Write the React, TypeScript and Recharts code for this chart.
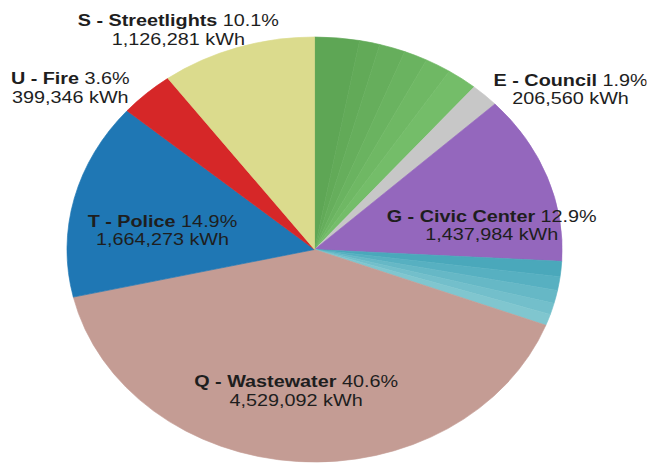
import { Cell, Pie, PieChart } from 'recharts'

// slices clockwise from 12 o'clock; the unlabeled ones are small sub-accounts
const categories = [
  'green-1', 'green-2', 'green-3', 'green-4', 'green-5', 'green-6',
  'E - Council',
  'G - Civic Center',
  'teal-1', 'teal-2', 'teal-3', 'teal-4', 'teal-5',
  'Q - Wastewater',
  'T - Police',
  'U - Fire',
  'S - Streetlights',
]
const kwh = [
  325000, 148000, 189000, 171000, 189000, 221000,
  206560,
  1437984,
  129000, 116000, 111000, 96000, 96000,
  4529092,
  1664273,
  399346,
  1126281,
]
const colors = [
  '#5ea655', '#62aa58', '#66ae5c', '#6ab360', '#6fb864', '#74bd69',
  '#c7c7c7',
  '#9467bd',
  '#4aa8bb', '#57b0c1', '#66b8c6', '#73bfcb', '#80c6cf',
  '#c49c94',
  '#1f77b4',
  '#d62728',
  '#dbdb8d',
]

// where each visible label sits: radius and angle (deg, clockwise from top)
const labelPlacement: Record<string, { r: number; a: number }> = {
  'S - Streetlights': { r: 249, a: 332 },
  'U - Fire': { r: 265, a: 307.7 },
  'E - Council': { r: 272, a: 53.9 },
  'G - Civic Center': { r: 154, a: 80.9 },
  'T - Police': { r: 132, a: 278.5 },
  'Q - Wastewater': { r: 142, a: 186.4 },
}

const STRETCH = 1.165
const total = kwh.reduce((s, v) => s + v, 0)
const data = categories.map((name, i) => ({ name, value: kwh[i] }))

function SliceLabel(props: any) {
  const { cx, cy, index } = props
  const name = categories[index]
  const place = labelPlacement[name]
  if (!place) return null
  const rad = (place.a * Math.PI) / 180
  const x = cx + place.r * Math.sin(rad)
  const y = cy - place.r * Math.cos(rad)
  const pct = ((kwh[index] / total) * 100).toFixed(1)
  return (
    <text
      x={x}
      y={y}
      textAnchor="middle"
      fill="#1e1e1e"
      fontSize={17}
      fontFamily="'Liberation Sans', Arial, sans-serif"
    >
      <tspan x={x} y={y - 9.25} dominantBaseline="central">
        <tspan fontWeight="bold">{name}</tspan> {pct}%
      </tspan>
      <tspan x={x} y={y + 9.25} dominantBaseline="central">
        {kwh[index].toLocaleString('en-US')} kWh
      </tspan>
    </text>
  )
}

export default function App() {
  return (
    <div
      style={{
        position: 'fixed',
        left: 0,
        top: 0,
        width: 647,
        height: 463,
        overflow: 'hidden',
        background: '#fff',
      }}
    >
      <div style={{ width: 555, height: 463, transform: `scaleX(${STRETCH})`, transformOrigin: 'left top' }}>
        <PieChart width={555} height={463} margin={{ top: 0, right: 0, bottom: 0, left: 0 }}>
          <Pie
            data={data}
            dataKey="value"
            nameKey="name"
            cx={270}
            cy={249.5}
            outerRadius={212.5}
            startAngle={90}
            endAngle={-270}
            label={SliceLabel}
            labelLine={false}
            isAnimationActive={false}
          >
            {data.map((d, i) => (
              <Cell key={d.name} fill={colors[i]} stroke={colors[i]} strokeWidth={0.6} />
            ))}
          </Pie>
        </PieChart>
      </div>
    </div>
  )
}
